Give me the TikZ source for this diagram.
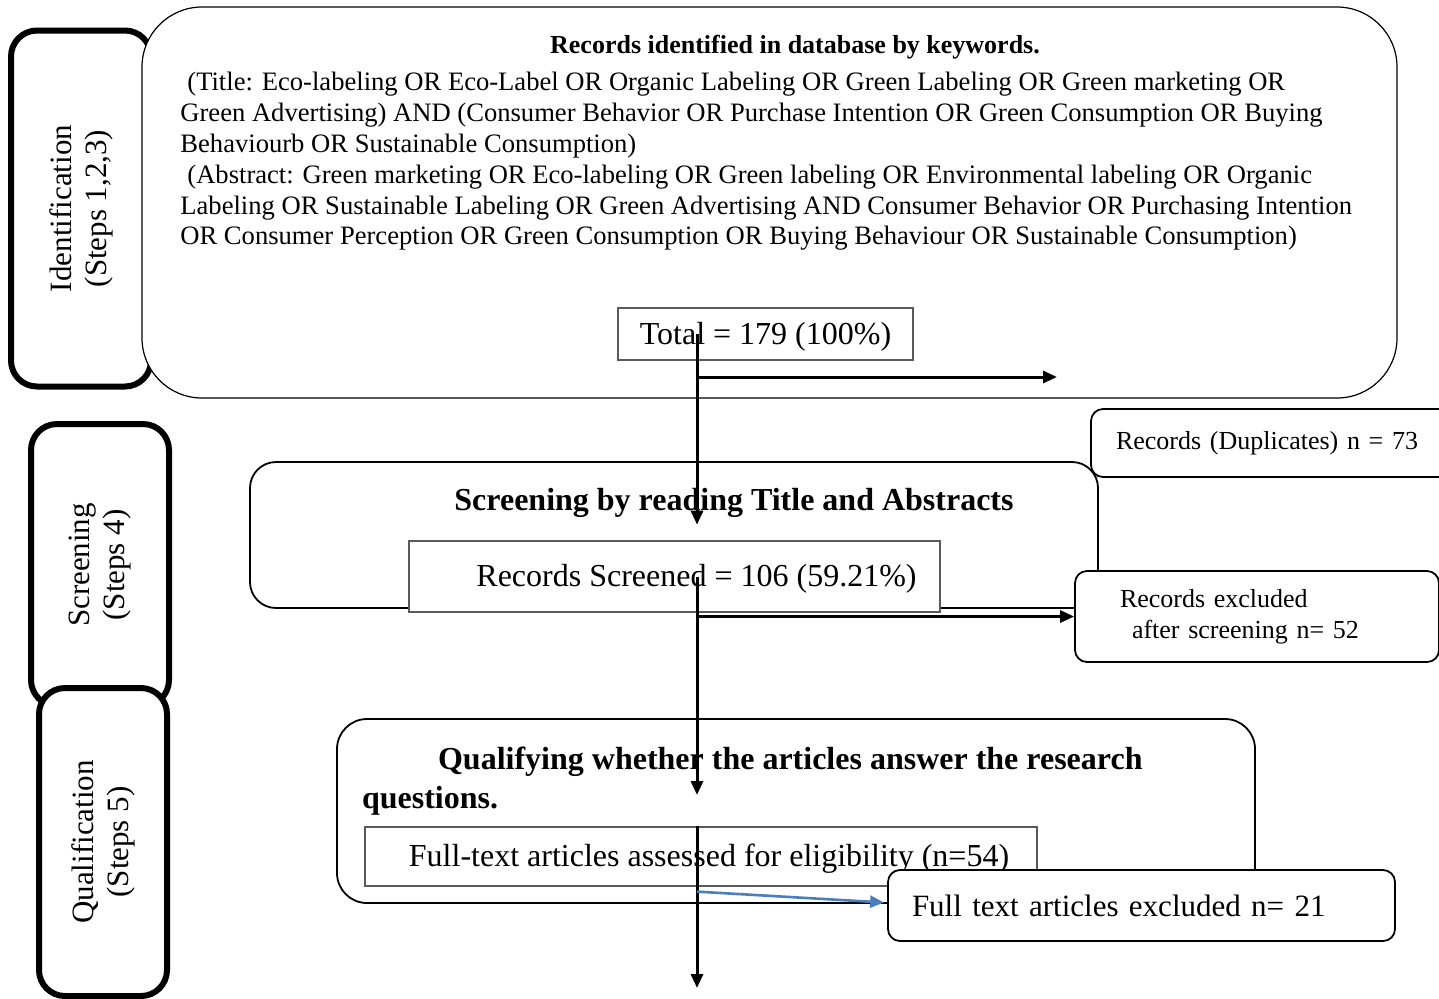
\documentclass[tikz,border=0pt]{standalone}
\usepackage{fontspec}
\setmainfont{Liberation Serif}
\usepackage{tikz}
\usetikzlibrary{arrows.meta, positioning, calc}
\definecolor{myblue}{RGB}{74,126,187}
\definecolor{mygray}{RGB}{90,90,90}
\tikzset{
  sidebox/.style={rectangle, draw, fill=white, line width=3pt, rounded corners=13pt,
    rotate=90, align=center, font=\fontsize{15.5}{17.5}\selectfont},
  bigbox/.style={rectangle, draw, fill=white, line width=0.6pt, rounded corners=30pt},
  stagebox/.style={rectangle, draw, fill=white, line width=0.9pt, rounded corners=13pt},
  countbox/.style={rectangle, draw=mygray, fill=white, line width=0.6pt, text depth=1pt,
    font=\fontsize{16}{19}\selectfont},
  outbox/.style={rectangle, draw, fill=white, line width=0.9pt, rounded corners=6pt,
    align=left},
  arrow/.style={-{Triangle[length=7pt, width=6pt]}, line width=1.5pt},
  bluearrow/.style={arrow, color=myblue, line width=1.3pt},
  headtext/.style={font=\fontsize{13}{15.5}\selectfont\bfseries},
  bodytext/.style={font=\fontsize{13.3}{15.4}\selectfont, align=left, inner sep=0pt},
  titletext/.style={font=\fontsize{16}{19.5}\selectfont\bfseries, align=left}
}

\begin{document}
\begin{tikzpicture}[x=0.5pt, y=-0.5pt]
  \path [use as bounding box, clip] (0,0) rectangle (1439,998);

  % identification
  \node [sidebox, minimum width=178pt, minimum height=70pt] (idside) at (81,208.5)
    {Identification\\(Steps 1,2,3)};
  \node [bigbox, minimum width=627.5pt, minimum height=195.5pt] (idbox) at (769.5,202.5) {};
  \node [headtext] (idhead) at (795,47) {Records identified in database by keywords.};
  \node [bodytext, anchor=north west] (idtext) at (180,72)
    {\hspace*{3.5pt}(Title: Eco-labeling OR Eco-Label OR Organic Labeling OR Green Labeling OR Green marketing OR\\
     Green Advertising) AND (Consumer Behavior OR Purchase Intention OR Green Consumption OR Buying\\
     Behaviourb OR Sustainable Consumption)\\
     \hspace*{3.5pt}(Abstract: Green marketing OR Eco-labeling OR Green labeling OR Environmental labeling OR Organic\\
     Labeling OR Sustainable Labeling OR Green Advertising AND Consumer Behavior OR Purchasing Intention\\
     OR Consumer Perception OR Green Consumption OR Buying Behaviour OR Sustainable Consumption)};
  \node [countbox, minimum width=147.5pt, minimum height=26pt] (total) at (765.5,334)
    {Total = 179 (100\%)};

  % screening
  \node [sidebox, minimum width=141pt, minimum height=69pt] (scrside) at (100,565)
    {Screening\\(Steps 4)};
  \node [outbox, minimum width=184.5pt, minimum height=34pt, text width=159.5pt,
    inner xsep=12.5pt, font=\fontsize{13}{15.5}\selectfont] (dup) at (1275.5,443)
    {Records (Duplicates) n = 73};
  \node [stagebox, minimum width=424pt, minimum height=73pt] (scrbox) at (674,535) {};
  \node [titletext] (scrtitle) at (734,503) {Screening by reading Title and Abstracts};
  \node [countbox, minimum width=265.5pt, minimum height=35.5pt] (screened) at (674.5,576.5)
    {\hspace*{22pt}Records Screened = 106 (59.21\%)};
  \node [outbox, minimum width=182pt, minimum height=45.5pt, text width=137pt,
    inner xsep=22.5pt, font=\fontsize{13}{15.5}\selectfont] (scrout) at (1257,616.5)
    {Records excluded\\\hspace*{6pt}after screening n= 52};

  % qualification
  \node [sidebox, minimum width=154pt, minimum height=64pt] (qualside) at (103,842)
    {Qualification\\(Steps 5)};
  \node [stagebox, minimum width=459pt, minimum height=92pt, rounded corners=15pt] (qualbox) at (796,811) {};
  \node [titletext, anchor=west] (qualtitle) at (355,781)
    {\hspace*{38pt}Qualifying whether the articles answer the research\\questions.};
  \node [countbox, minimum width=336pt, minimum height=29.5pt] (assessed) at (701,856.5)
    {\hspace*{8pt}Full-text articles assessed for eligibility (n=54)};
  \node [outbox, minimum width=253.5pt, minimum height=35.5pt, text width=229.5pt,
    inner xsep=12pt, font=\fontsize{15.5}{19}\selectfont] (fullout) at (1141.5,905.5)
    {Full text articles excluded n= 21};

  % connectors
  \coordinate (trunk) at (697,0);
  \coordinate (dupin) at (1057,377);
  \coordinate (qualin) at (697,795);
  \coordinate (qualout) at (697,988);
  \draw [arrow] (trunk |- total.center) -- (trunk |- scrtitle.south);
  \draw [arrow] (trunk |- dupin) -- (dupin);
  \draw [arrow] (trunk |- screened.center) -- (qualin);
  \draw [arrow] (trunk |- scrout.west) -- (scrout.west);
  \draw [arrow] (trunk |- assessed.north) -- (qualout);
  \draw [bluearrow] ($(trunk |- assessed.south)+(0,5)$) -- ($(fullout.west)+(-3,-3)$);
\end{tikzpicture}
\end{document}
